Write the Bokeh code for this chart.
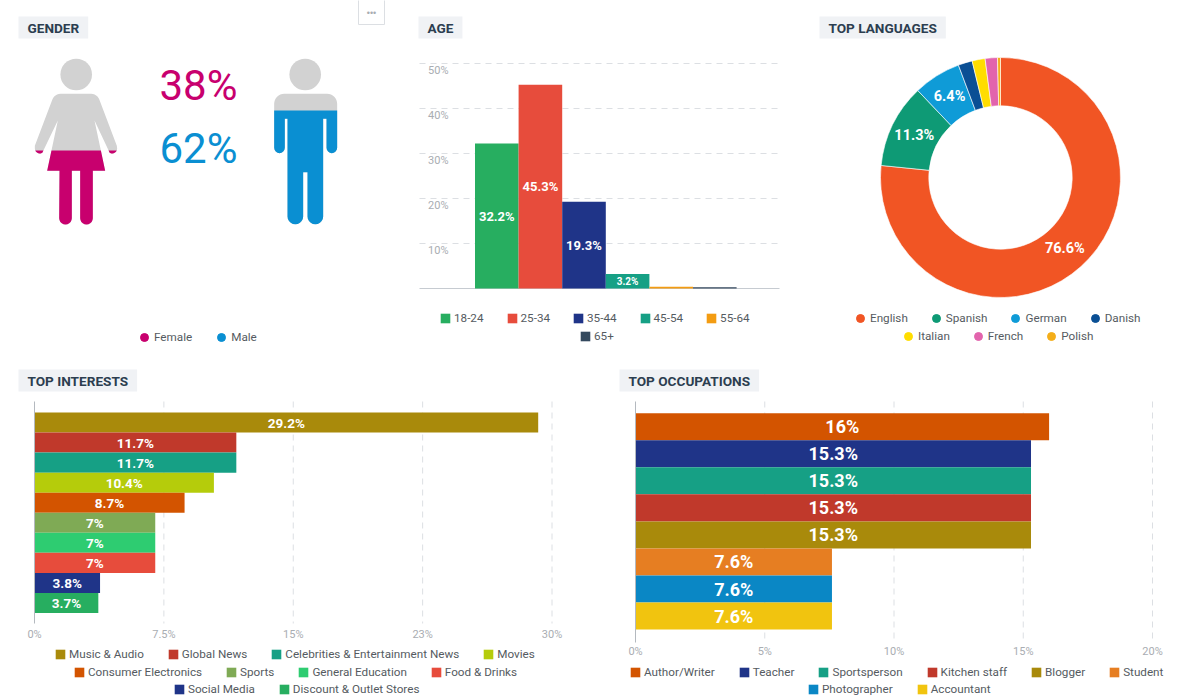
import math
from bokeh.embed import file_html
from bokeh.resources import INLINE
from bokeh.layouts import column, row
from bokeh.models import (ColumnDataSource, FixedTicker, Label, Legend, LegendItem, LinearAxis, Range1d)
from bokeh.core.properties import value
from bokeh.plotting import figure

gender_labels = ["Female", "Male"]
gender_values = [38, 62]
gender_colors = ["#c8006e", "#0a8fd2"]

age_labels = ["18-24", "25-34", "35-44", "45-54", "55-64", "65+"]
age_values = [32.2, 45.3, 19.3, 3.2, 0.4, 0.3]
age_shown = ["32.2%", "45.3%", "19.3%", "3.2%", "", ""]
age_colors = ["#27ae60", "#e74c3c", "#1f3488", "#16a085", "#f39c12", "#34495e"]
age_ticks = [10, 20, 30, 40, 50]

lang_labels = ["English", "Spanish", "German", "Danish", "Italian", "French", "Polish"]
lang_values = [76.6, 11.3, 6.4, 1.9, 1.75, 1.65, 0.4]
lang_shown = ["76.6%", "11.3%", "6.4%", "", "", "", ""]
lang_colors = ["#f15524", "#0e9a75", "#0f9bd7", "#0a4f94", "#ffdd00", "#e264ad", "#f4ae1a"]

int_labels = ["Music & Audio", "Global News", "Celebrities & Entertainment News", "Movies",
              "Consumer Electronics", "Sports", "General Education", "Food & Drinks",
              "Social Media", "Discount & Outlet Stores"]
int_values = [29.2, 11.7, 11.7, 10.4, 8.7, 7, 7, 7, 3.8, 3.7]
int_colors = ["#a98a0b", "#c0392b", "#16a085", "#b5cc0b", "#d35400", "#7faa55", "#2ecc71",
              "#e74c3c", "#1f3488", "#27ae60"]
int_ticks = [0, 7.5, 15, 22.5, 30]
int_tick_labels = ["0%", "7.5%", "15%", "23%", "30%"]

occ_labels = ["Author/Writer", "Teacher", "Sportsperson", "Kitchen staff", "Blogger", "Student",
              "Photographer", "Accountant"]
occ_values = [16, 15.3, 15.3, 15.3, 15.3, 7.6, 7.6, 7.6]
occ_colors = ["#d35400", "#1f3488", "#16a085", "#c0392b", "#a98a0b", "#e67e22", "#0a87c5", "#f1c40f"]
occ_ticks = [0, 5, 10, 15, 20]

UI = "Roboto"
TICK = "#a9adb2"
GRID = "#dcdfe3"
LEG = "#555b61"
BOXES = {}


def panel(box, xv0, xpx0, xk, yv0, ypx0, yk):
    """Figure filling a page box; a value xv0 falls on page pixel xpx0 (xk px per unit), same for y."""
    x0, y0, x1, y1 = box
    p = figure(width=x1 - x0, height=y1 - y0,
               x_range=Range1d(xv0 + (x0 - xpx0) / xk, xv0 + (x1 - xpx0) / xk),
               y_range=Range1d(yv0 + (ypx0 - y1) / yk, yv0 + (ypx0 - y0) / yk),
               output_backend="svg", toolbar_location=None, x_axis_type=None, y_axis_type=None,
               min_border=0, min_border_left=0, min_border_right=0, min_border_top=0, min_border_bottom=0)
    p.outline_line_color = None
    p.border_fill_color = "white"
    p.background_fill_color = "white"
    BOXES[p.id] = box
    return p


def pill(p, text, x, y):
    x0, y0, x1, y1 = BOXES[p.id]
    p.add_layout(Label(x=x - x0, y=y1 - y, x_units="screen", y_units="screen", text=text,
                       anchor="center_left", text_font=UI, text_font_size="13.6px",
                       text_font_style="bold", text_color="#2c3e50", padding=(9, 9, 3, 3),
                       background_fill_color="#f0f2f5"))


def legend_row(p, renderer, labels, idx, left, cy, spacing, glyph, standoff):
    x0, y0, x1, y1 = BOXES[p.id]
    items = [LegendItem(label=value(labels[i]), renderers=[renderer], index=i) for i in idx]
    p.add_layout(Legend(items=items, orientation="horizontal",
                        location=(left - x0, y1 - cy - glyph / 2), margin=0, padding=0,
                        spacing=spacing, glyph_width=glyph, glyph_height=glyph,
                        label_standoff=standoff, label_width=0, label_height=glyph,
                        label_text_font=UI, label_text_font_size="11.7px",
                        label_text_color=LEG, border_line_color=None,
                        background_fill_alpha=0), "center")


def dashed_rules(p, x0, x1, y0, y1):
    r = p.segment(x0=x0, x1=x1, y0=y0, y1=y1, line_color=GRID, line_width=1, level="underlay")
    r.glyph.line_dash = [6, 5]


def arc(cx, cy, r, a0, a1, n=10):
    return [(cx + r * math.cos(math.radians(a0 + (a1 - a0) * i / n)),
             cy + r * math.sin(math.radians(a0 + (a1 - a0) * i / n))) for i in range(n + 1)]


def clip_below(poly, level):
    """Keep the part of a polygon at or below a horizontal level (page y grows downward)."""
    out = []
    for (ax, ay), (bx, by) in zip(poly, poly[1:] + poly[:1]):
        if ay >= level:
            out.append((ax, ay))
        if (ay >= level) != (by >= level):
            t = (level - ay) / (by - ay)
            out.append((ax + t * (bx - ax), level))
    return out


def scaled(pts):
    return [(a / 3, b / 3) for a, b in pts]


female_body = scaled(
    [(180, 280), (272, 280)] + arc(272, 306, 26, 270, 340, 6)
    + [(349, 436)] + arc(335, 444, 15, 0, 120, 6) + [(282, 360), (314, 511), (277, 511), (277, 653)]
    + arc(258, 653, 19, 0, 180, 10) + [(239, 511), (214, 511), (214, 653)]
    + arc(195, 653, 19, 0, 180, 10) + [(177, 511), (140, 511), (172, 360)]
    + arc(118, 444, 15, 60, 180, 6) + [(103, 436)] + arc(180, 306, 26, 200, 270, 6))
male_body = scaled(
    [(850, 280), (980, 280)] + arc(980, 310, 30, 270, 360, 8) + [(1010, 442)]
    + arc(994, 442, 16, 0, 180, 8) + [(978, 355), (968, 355), (968, 648)]
    + arc(944.5, 648, 23.5, 0, 180, 10) + [(921, 515), (908, 515), (908, 648)]
    + arc(884.5, 648, 23.5, 0, 180, 10) + [(861, 355), (853, 355), (853, 442)]
    + arc(837, 442, 16, 0, 180, 8) + [(821, 310)] + arc(851, 310, 30, 180, 270, 8))


# ------------------------------------------------------------------ gender
g = panel((0, 0, 400, 360), 0, 0, 1, 0, 0, -1)
pill(g, "GENDER", 18, 27)
g.quad(left=[358], right=[384], top=[-4], bottom=[24], fill_color="white", line_color="#dcdfe3")
g.text(x=[371], y=[12], text=["•••"], text_align="center", text_baseline="middle",
       text_font_size="9px", text_color="#a9adb2")
FEET = 224
for body, head_x, val, col, k in [(female_body, 75.7, gender_values[0], gender_colors[0], 1.947),
                                  (male_body, 304.7, gender_values[1], gender_colors[1], 1.839)]:
    g.circle(x=[head_x], y=[74], radius=15.8, fill_color="#d2d2d2", line_color=None)
    g.patch([a for a, b in body], [b for a, b in body], fill_color="#d2d2d2", line_color=None)
    part = clip_below(body, FEET - val * k)
    g.patch([a for a, b in part], [b for a, b in part], fill_color=col, line_color=None)
g.text(x=[198, 198], y=[85, 148], text=[f"{v}%" for v in gender_values], text_color=gender_colors,
       text_align="center", text_baseline="middle", text_font=value(UI), text_font_size="42px")
gs = ColumnDataSource(dict(x=[float("nan")] * 2, y=[float("nan")] * 2, c=gender_colors))
gr = g.scatter("x", "y", source=gs, color="c", size=8)
legend_row(g, gr, gender_labels, [0, 1], 134, 337, 19, 20, -4)

# ------------------------------------------------------------------ age
positions = list(range(len(age_values)))
A_K = 4.5
BAR_W = 43.6
a = panel((400, 0, 800, 360), 0, 496.3, BAR_W, 0, 288, A_K)
pill(a, "AGE", 418, 27)
ax_from = (419 - 496.3) / BAR_W
ax_to = (779 - 496.3) / BAR_W
dashed_rules(a, [ax_from] * 5, [ax_to] * 5, age_ticks, age_ticks)
a.extra_y_ranges = {"labels": Range1d(a.y_range.start + 7 / A_K, a.y_range.end + 7 / A_K)}
age_axis = LinearAxis(y_range_name="labels", fixed_location=(454 - 496.3) / BAR_W,
                      ticker=FixedTicker(ticks=age_ticks),
                      major_label_overrides={t: f"{t}%" for t in age_ticks},
                      axis_line_color=None, major_tick_line_color=None, minor_tick_line_color=None,
                      major_label_standoff=0, major_label_text_color=TICK,
                      major_label_text_font=UI, major_label_text_font_size="11px")
a.add_layout(age_axis, "left")
base_axis = LinearAxis(fixed_location=0, ticker=FixedTicker(ticks=[]), bounds=(ax_from, ax_to),
                       axis_line_color="#c6cbd1", major_tick_line_color=None, minor_tick_line_color=None,
                       major_label_text_font_size="0px", level="underlay")
a.add_layout(base_axis, "below")
src = ColumnDataSource(dict(x=positions, top=age_values, half=[v / 2 for v in age_values],
                            c=age_colors, t=age_shown, fs=["13px", "13px", "13px", "10px", "10px", "10px"]))
ar = a.vbar(x="x", top="top", width=1, bottom=0, source=src, fill_color="c", line_color=None)
a.text(x="x", y="half", text="t", source=src, text_color="white", text_align="center",
       text_baseline="middle", text_font=value(UI), text_font_style="bold", text_font_size="fs")
legend_row(a, ar, age_labels, [0, 1, 2, 3, 4], 439, 319, 22, 12, 3)
legend_row(a, ar, age_labels, [5], 579, 337, 22, 12, 3)

# ------------------------------------------------------------------ languages
total = 0
starts = []
for v in lang_values:
    starts.append(total)
    total += v
stops = [s + v for s, v in zip(starts, lang_values)]


def to_ang(pct):
    return math.pi / 2 - 2 * math.pi * pct / 100


mids = [to_ang((s + e) / 2) for s, e in zip(starts, stops)]
RMID = 96
l = panel((800, 0, 1200, 360), 0, 1000, 1, 0, 177, 1)
pill(l, "TOP LANGUAGES", 819, 27)
ls = ColumnDataSource(dict(start=[to_ang(e) for e in stops], end=[to_ang(s) for s in starts], c=lang_colors,
                           lx=[RMID * math.cos(m) for m in mids], ly=[RMID * math.sin(m) for m in mids],
                           t=lang_shown, nx=[float("nan")] * 7, ny=[float("nan")] * 7))
l.annular_wedge(x=0, y=0, inner_radius=71.7, outer_radius=120, start_angle="start", end_angle="end",
                source=ls, fill_color="c", line_color="white", line_width=0.6)
l.text(x="lx", y="ly", text="t", source=ls, text_color="white", text_align="center", text_baseline="middle",
       text_font=value(UI), text_font_style="bold", text_font_size="14.5px")
lr = l.scatter("nx", "ny", source=ls, color="c", size=8)
legend_row(l, lr, lang_labels, [0, 1, 2, 3], 850, 318, 18, 20, -4)
legend_row(l, lr, lang_labels, [4, 5, 6], 898, 336, 18, 20, -4)


# ------------------------------------------------------------------ horizontal bars
def hbars(box, x_zero, kx, first_mid, row_h, top, bottom, title, title_x, values, colors, ticks, tick_labels, font,
          standoff):
    n = len(values)
    p = panel(box, 0, x_zero, kx, 0, first_mid, -row_h)
    pill(p, title, title_x, box[1] + 20)
    y_top = (first_mid - top) / -row_h
    y_bottom = (first_mid - bottom) / -row_h
    dashed_rules(p, ticks[1:], ticks[1:], [y_top] * 4, [y_bottom] * 4)
    p.add_layout(LinearAxis(fixed_location=0, ticker=FixedTicker(ticks=[]), bounds=(y_top, y_bottom),
                            axis_line_color="#b4b9bf", major_tick_line_color=None,
                            minor_tick_line_color=None, major_label_text_font_size="0px"), "left")
    p.add_layout(LinearAxis(fixed_location=y_bottom, ticker=FixedTicker(ticks=ticks),
                            major_label_overrides=dict(zip(ticks, tick_labels)),
                            axis_line_color=None, major_tick_line_color=None, minor_tick_line_color=None,
                            major_label_standoff=standoff, major_label_text_color=TICK,
                            major_label_text_font=UI, major_label_text_font_size="11px"), "below")
    s = ColumnDataSource(dict(y=list(range(n)), v=values, half=[v / 2 for v in values], c=colors,
                              t=[f"{v:g}%" for v in values]))
    r = p.hbar(y="y", right="v", left=0, height=1, source=s, fill_color="c", line_color=None)
    p.text(x="half", y="y", text="t", source=s, text_color="white", text_align="center",
           text_baseline="middle", text_font=value(UI), text_font_style="bold", text_font_size=font)
    return p, r


i, ir = hbars((0, 360, 600, 696), 34, 17.25, 422, 20.05, 401, 623, "TOP INTERESTS", 18,
              int_values, int_colors, int_ticks, int_tick_labels, "13.5px", -2)
legend_row(i, ir, int_labels, [0, 1, 2, 3], 54, 655, 23, 12, 3)
legend_row(i, ir, int_labels, [4, 5, 6, 7], 73, 673, 23, 12, 3)
legend_row(i, ir, int_labels, [8, 9], 173, 690, 23, 12, 3)

o, or_ = hbars((600, 360, 1200, 696), 635, 25.85, 426.2, 27.05, 401, 642, "TOP OCCUPATIONS", 619,
               occ_values, occ_colors, occ_ticks, [f"{t}%" for t in occ_ticks], "18px", -4)
legend_row(o, or_, occ_labels, [0, 1, 2, 3, 4, 5], 629, 673, 23, 12, 3)
legend_row(o, or_, occ_labels, [6, 7], 807, 690, 23, 12, 3)

page = column(row(g, a, l, spacing=0), row(i, o, spacing=0), spacing=0)
open("out.html", "w").write(file_html(page, INLINE))
